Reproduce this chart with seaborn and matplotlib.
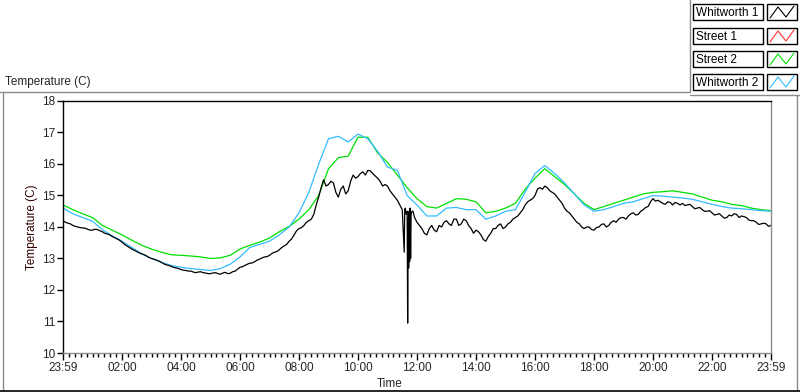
import numpy as np
import pandas as pd
import matplotlib
matplotlib.use("Agg")
import matplotlib.pyplot as plt
from matplotlib.lines import Line2D
from matplotlib.patches import Rectangle
import seaborn as sns

# ---------------- data ----------------
series_names = ["Whitworth 1", "Street 1", "Street 2", "Whitworth 2"]
series_colors = ["#000000", "#ff3030", "#00e000", "#33bbff"]

tick_hours = [0, 2, 4, 6, 8, 10, 12, 14, 16, 18, 20, 22, 24]
tick_labels = ["23:59", "02:00", "04:00", "06:00", "08:00", "10:00", "12:00",
               "14:00", "16:00", "18:00", "20:00", "22:00", "23:59"]

# Whitworth 1 (black), every 10 minutes from 23:59
black_temp = [
    14.20, 14.12, 14.05, 14.00, 13.97, 13.93,
    13.90, 13.92, 13.85, 13.78, 13.70, 13.62,
    13.52, 13.40, 13.30, 13.22, 13.15, 13.08,
    13.00, 12.95, 12.88, 12.80, 12.75, 12.70,
    12.65, 12.62, 12.60, 12.55, 12.58, 12.54,
    12.52, 12.55, 12.50, 12.56, 12.53, 12.60,
    12.72, 12.78, 12.85, 12.90, 12.98, 13.05,
    13.10, 13.20, 13.28, 13.40, 13.55, 13.75,
    13.95, 14.05, 14.20, 14.40, 14.95, 15.50,
    15.35, 15.40, 14.95, 15.30, 15.15, 15.65,
    15.60, 15.75, 15.80, 15.70, 15.55, 15.30,
    15.30, 15.05, 14.85, 14.55, 14.50, 14.50,
    14.15, 13.95, 13.75, 14.05, 13.85, 14.00,
    14.20, 14.05, 14.25, 14.10, 14.20, 13.95,
    13.90, 13.75, 13.55, 13.80, 13.95, 14.10,
    14.00, 14.15, 14.30, 14.45, 14.70, 14.85,
    15.00, 15.25, 15.30, 15.15, 15.05, 14.85,
    14.60, 14.45, 14.25, 14.10, 13.95, 14.00,
    13.90, 14.00, 14.10, 14.05, 14.20, 14.25,
    14.30, 14.35, 14.45, 14.40, 14.55, 14.65,
    14.90, 14.85, 14.75, 14.80, 14.70, 14.75,
    14.75, 14.70, 14.65, 14.60, 14.55, 14.50,
    14.45, 14.40, 14.35, 14.30, 14.35, 14.40,
    14.35, 14.30, 14.20, 14.15, 14.10, 14.10,
    14.05,
]
# Whitworth 1 readings halfway between the above (5, 15, 25 ... minutes)
black_mid = [
    14.15, 14.10, 14.02, 13.98, 13.96, 13.90,
    13.93, 13.88, 13.80, 13.75, 13.66, 13.58,
    13.45, 13.35, 13.26, 13.18, 13.12, 13.03,
    12.98, 12.92, 12.83, 12.78, 12.72, 12.68,
    12.63, 12.60, 12.57, 12.57, 12.55, 12.52,
    12.54, 12.52, 12.54, 12.52, 12.58, 12.66,
    12.74, 12.82, 12.86, 12.95, 13.02, 13.06,
    13.16, 13.22, 13.35, 13.45, 13.62, 13.88,
    13.98, 14.15, 14.25, 14.70, 15.25, 15.30,
    15.45, 15.10, 15.20, 15.05, 15.45, 15.55,
    15.70, 15.65, 15.78, 15.62, 15.45, 15.35,
    15.15, 14.95, 14.70, 14.52, 12.90, 14.30,
    14.05, 13.80, 13.95, 13.90, 14.05, 14.15,
    14.10, 14.25, 14.05, 14.25, 14.05, 13.80,
    13.85, 13.60, 13.70, 13.95, 14.05, 13.95,
    14.10, 14.25, 14.35, 14.55, 14.80, 14.90,
    15.20, 15.20, 15.25, 15.10, 14.95, 14.75,
    14.50, 14.35, 14.15, 14.00, 14.00, 13.92,
    13.98, 14.08, 14.00, 14.15, 14.15, 14.30,
    14.25, 14.42, 14.38, 14.50, 14.62, 14.80,
    14.82, 14.80, 14.72, 14.78, 14.78, 14.70,
    14.68, 14.72, 14.58, 14.62, 14.50, 14.52,
    14.38, 14.42, 14.28, 14.38, 14.42, 14.30,
    14.33, 14.22, 14.20, 14.08, 14.12, 14.02,
]
# extra readings around the sharp drop near 11:40 (minutes after 23:59)
spike_minutes = [694, 696, 698, 701, 702, 703, 704, 706, 707, 708, 712]
spike_temp = [13.20, 14.60, 14.40, 10.95, 14.30, 12.70, 14.50, 14.60, 13.00, 14.40, 14.50]

# Street 2 (green), every 20 minutes
green_temp = [
    14.70, 14.55, 14.42, 14.30, 14.05, 13.90, 13.75, 13.58, 13.42,
    13.30, 13.20, 13.12, 13.10, 13.08, 13.05, 13.00, 13.02, 13.10,
    13.30, 13.42, 13.52, 13.65, 13.85, 14.02, 14.25, 14.55, 15.00,
    15.85, 16.20, 16.25, 16.85, 16.85, 16.35, 16.05, 15.65, 15.25,
    14.90, 14.65, 14.60, 14.75, 14.90, 14.88, 14.80, 14.45, 14.50,
    14.60, 14.75, 15.20, 15.55, 15.85, 15.60, 15.35, 15.05, 14.75,
    14.55, 14.65, 14.75, 14.85, 14.95, 15.05, 15.10, 15.12, 15.15,
    15.10, 15.05, 14.95, 14.85, 14.80, 14.72, 14.68, 14.60, 14.55,
    14.52,
]
# Whitworth 2 (blue), every 20 minutes
blue_temp = [
    14.60, 14.42, 14.30, 14.18, 13.92, 13.72, 13.55, 13.35, 13.15,
    13.00, 12.88, 12.78, 12.72, 12.68, 12.65, 12.62, 12.68, 12.82,
    13.05, 13.35, 13.45, 13.55, 13.75, 14.00, 14.45, 15.10, 16.00,
    16.80, 16.88, 16.70, 16.95, 16.80, 16.40, 15.90, 15.80, 15.00,
    14.70, 14.35, 14.35, 14.60, 14.62, 14.55, 14.55, 14.25, 14.35,
    14.50, 14.55, 15.10, 15.70, 15.95, 15.70, 15.40, 15.05, 14.70,
    14.50, 14.55, 14.65, 14.75, 14.80, 14.90, 15.00, 14.98, 14.95,
    14.92, 14.88, 14.80, 14.72, 14.65, 14.60, 14.58, 14.55, 14.52,
    14.50,
]
# Street 1 (red): no readings visible in the chart
red_temp = []

# ---------------- tables ----------------
black_df = pd.DataFrame({
    "hours": list(np.arange(len(black_temp)) * 10 / 60.0)
             + list((np.arange(len(black_mid)) * 10 + 5) / 60.0)
             + [m / 60.0 for m in spike_minutes],
    "temp": black_temp + black_mid + spike_temp,
}).sort_values("hours", kind="stable")
green_df = pd.DataFrame({"hours": np.arange(len(green_temp)) * 20 / 60.0, "temp": green_temp})
blue_df = pd.DataFrame({"hours": np.arange(len(blue_temp)) * 20 / 60.0, "temp": blue_temp})

# ---------------- figure ----------------
sns.set_style("white")
plt.rcParams["font.family"] = ["Liberation Sans", "DejaVu Sans"]
plt.rcParams["font.size"] = 8.5

W, H = 800, 392
fig = plt.figure(figsize=(W / 100, H / 100), dpi=100)

# decoration layer in pixel coordinates
deco = fig.add_axes([0, 0, 1, 1], zorder=0)
deco.set_xlim(0, W)
deco.set_ylim(H, 0)
deco.axis("off")
gray = "#8c8c8c"
deco.add_line(Line2D([0, 690], [92, 92], color=gray, lw=1))
deco.add_line(Line2D([690, 690], [0, 92], color=gray, lw=1))
deco.add_line(Line2D([690, 800], [95, 95], color=gray, lw=1))
deco.add_line(Line2D([2.5, 2.5], [92, 390], color=gray, lw=1))
deco.add_line(Line2D([796.5, 796.5], [95, 390], color=gray, lw=1))
deco.add_line(Line2D([0, 800], [390.5, 390.5], color="black", lw=1.2))

# legend boxes
row_tops = [4, 28, 51, 74]
for name, col, top in zip(series_names, series_colors, row_tops):
    deco.add_patch(Rectangle((693, top), 70, 16, fill=False, ec="black", lw=1))
    deco.add_patch(Rectangle((767, top), 30, 16, fill=False, ec="black", lw=1))
    deco.text(696, top + 8.5, name, ha="left", va="center", fontsize=8.5, color="black")
    deco.add_line(Line2D([770, 778, 786, 794], [top + 14, top + 3, top + 13, top + 2],
                         color=col, lw=0.8))

fig.text(5 / W, 1 - 82 / H, "Temperature (C)", ha="left", va="center", fontsize=8.5)

ax = fig.add_axes([63 / W, 1 - 353 / H, 708 / W, 252 / H], zorder=1)
ax.set_facecolor("white")

sns.lineplot(data=green_df, x="hours", y="temp", ax=ax, color=series_colors[2],
             lw=0.9, estimator=None, sort=False)
sns.lineplot(data=blue_df, x="hours", y="temp", ax=ax, color=series_colors[3],
             lw=0.9, estimator=None, sort=False)
sns.lineplot(data=black_df, x="hours", y="temp", ax=ax, color=series_colors[0],
             lw=0.9, estimator=None, sort=False)

ax.set_xlim(0, 24)
ax.set_ylim(10, 18)
ax.set_xticks(tick_hours)
ax.set_xticklabels(tick_labels)
ax.set_xticks(np.arange(0, 24.01, 0.2), minor=True)
ax.set_yticks(range(10, 19))
ax.tick_params(axis="x", which="major", direction="out", length=5, width=1,
               color="black", pad=1.5, labelsize=8.5, bottom=True)
ax.tick_params(axis="x", which="minor", direction="out", length=3, width=1,
               color="black", bottom=True)
ax.tick_params(axis="y", which="major", direction="out", length=4, width=1,
               color="black", pad=1.5, labelsize=8.5, left=True)

for side, c in [("left", "black"), ("top", "black"), ("right", gray), ("bottom", gray)]:
    ax.spines[side].set_visible(True)
    ax.spines[side].set_color(c)
    ax.spines[side].set_linewidth(1)

ax.set_ylabel("Temperature (C)", fontsize=8.5, color="#300000")
ax.yaxis.label.set_va("center")
ax.yaxis.set_label_coords(-31 / 708, 0.5)
ax.set_xlabel("Time", fontsize=8.5)
ax.xaxis.label.set_va("center")
ax.xaxis.set_label_coords((390 - 63) / 708, -(384 - 353) / 252)

fig.savefig("out.png", dpi=100)
